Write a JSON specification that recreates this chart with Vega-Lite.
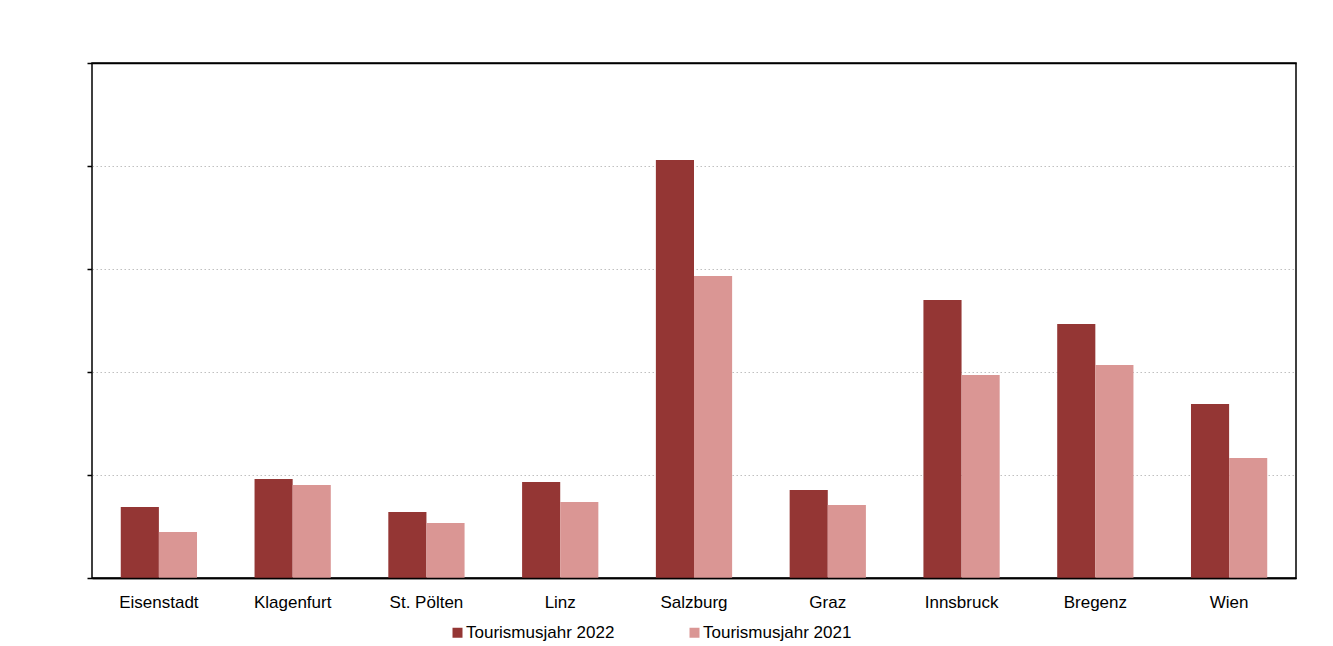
{
  "$schema": "https://vega.github.io/schema/vega-lite/v6.json",
  "width": 1204,
  "height": 515,
  "autosize": {"type": "none"},
  "padding": {"left": 92, "top": 63, "right": 37, "bottom": 68},
  "background": "white",
  "config": {
    "font": "Liberation Sans",
    "view": {"stroke": "black", "strokeWidth": 1.5},
    "axis": {"labelFont": "Liberation Sans", "labelColor": "black"}
  },
  "data": {
    "values": [
      {"city": "Eisenstadt", "series": "Tourismusjahr 2022", "value": 0.69},
      {"city": "Eisenstadt", "series": "Tourismusjahr 2021", "value": 0.447},
      {"city": "Klagenfurt", "series": "Tourismusjahr 2022", "value": 0.961},
      {"city": "Klagenfurt", "series": "Tourismusjahr 2021", "value": 0.903},
      {"city": "St. Pölten", "series": "Tourismusjahr 2022", "value": 0.641},
      {"city": "St. Pölten", "series": "Tourismusjahr 2021", "value": 0.534},
      {"city": "Linz", "series": "Tourismusjahr 2022", "value": 0.932},
      {"city": "Linz", "series": "Tourismusjahr 2021", "value": 0.738},
      {"city": "Salzburg", "series": "Tourismusjahr 2022", "value": 4.058},
      {"city": "Salzburg", "series": "Tourismusjahr 2021", "value": 2.932},
      {"city": "Graz", "series": "Tourismusjahr 2022", "value": 0.854},
      {"city": "Graz", "series": "Tourismusjahr 2021", "value": 0.709},
      {"city": "Innsbruck", "series": "Tourismusjahr 2022", "value": 2.699},
      {"city": "Innsbruck", "series": "Tourismusjahr 2021", "value": 1.971},
      {"city": "Bregenz", "series": "Tourismusjahr 2022", "value": 2.466},
      {"city": "Bregenz", "series": "Tourismusjahr 2021", "value": 2.068},
      {"city": "Wien", "series": "Tourismusjahr 2022", "value": 1.689},
      {"city": "Wien", "series": "Tourismusjahr 2021", "value": 1.165}
    ]
  },
  "mark": {"type": "bar"},
  "encoding": {
    "x": {
      "field": "city",
      "type": "nominal",
      "sort": null,
      "title": null,
      "scale": {"paddingInner": 0.43, "paddingOuter": 0.215},
      "axis": {
        "labelAngle": 0,
        "labelFontSize": 17,
        "labelPadding": 16,
        "ticks": false,
        "domain": true,
        "domainColor": "black",
        "domainWidth": 1.5,
        "zindex": 1,
        "grid": false
      }
    },
    "xOffset": {
      "field": "series",
      "type": "nominal",
      "sort": ["Tourismusjahr 2022", "Tourismusjahr 2021"],
      "scale": {"paddingInner": 0, "paddingOuter": 0}
    },
    "y": {
      "field": "value",
      "type": "quantitative",
      "title": null,
      "scale": {"domain": [0, 5], "nice": false},
      "axis": {
        "labels": false,
        "values": [0, 1, 2, 3, 4, 5],
        "ticks": true,
        "tickSize": 5,
        "tickColor": "black",
        "tickWidth": 1.5,
        "domain": false,
        "grid": true,
        "gridColor": {"condition": {"test": "datum.value === 0 || datum.value === 5", "value": "black"}, "value": "#c0c0c0"},
        "gridDash": {"condition": {"test": "datum.value === 0 || datum.value === 5", "value": []}, "value": [1.5, 2.5]},
        "gridWidth": {"condition": {"test": "datum.value === 0 || datum.value === 5", "value": 1.5}, "value": 1.2}
      }
    },
    "color": {
      "field": "series",
      "type": "nominal",
      "sort": ["Tourismusjahr 2022", "Tourismusjahr 2021"],
      "scale": {
        "domain": ["Tourismusjahr 2022", "Tourismusjahr 2021"],
        "range": ["#943634", "#DA9694"]
      },
      "legend": {
        "title": null,
        "orient": "none",
        "direction": "horizontal",
        "legendX": 357,
        "legendY": 561,
        "symbolType": "square",
        "symbolSize": 100,
        "symbolStrokeWidth": 0,
        "symbolOffset": 0,
        "labelOffset": 0,
        "labelFontSize": 17,
        "labelFont": "Liberation Sans",
        "labelColor": "black",
        "columnPadding": 71,
        "labelLimit": 300
      }
    }
  }
}
